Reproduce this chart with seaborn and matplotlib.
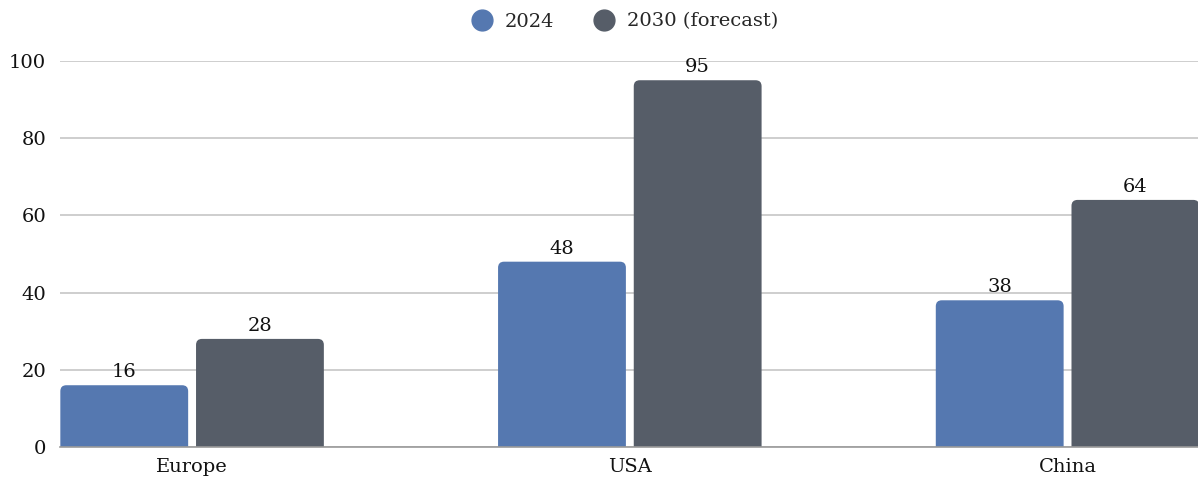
import matplotlib
matplotlib.use("Agg")
import matplotlib.pyplot as plt
from matplotlib.path import Path
from matplotlib.patches import PathPatch
from matplotlib.lines import Line2D
import seaborn as sns
import pandas as pd

regions = ["Europe", "USA", "China"]
series_names = ["2024", "2030 (forecast)"]
values_2024 = [16, 48, 38]
values_2030 = [28, 95, 64]
y_ticks = [0, 20, 40, 60, 80, 100]
colors = ["#5578B0", "#565D68"]

df = pd.DataFrame({
    "region": regions * 2,
    "series": [series_names[0]] * 3 + [series_names[1]] * 3,
    "value": values_2024 + values_2030,
})

sns.set_theme(style="white")
plt.rcParams["font.family"] = ["DejaVu Serif"]

fig = plt.figure(figsize=(11.98, 4.79), dpi=100)
ax = fig.add_axes([0.050, 0.0668, 0.950, 0.806])

sns.barplot(data=df, x="region", y="value", hue="series", order=regions,
            hue_order=series_names, palette=colors, width=0.62, gap=0.058,
            saturation=1, legend=False, ax=ax, zorder=3)

ax.set_ylim(0, 100)
ax.set_xlim(-0.302, 2.298)
fig.canvas.draw()

# rounded top corners (about 6 px radius)
inv = ax.transData.inverted()
p0 = inv.transform((0, 0))
p1 = inv.transform((6, 6))
rx, ry = p1[0] - p0[0], p1[1] - p0[1]

bars = list(ax.patches)
for b in bars:
    x0, w, h = b.get_x(), b.get_width(), b.get_height()
    x1 = x0 + w
    verts = [(x0, 0), (x0, h - ry), (x0, h), (x0 + rx, h), (x1 - rx, h),
             (x1, h), (x1, h - ry), (x1, 0), (x0, 0)]
    codes = [Path.MOVETO, Path.LINETO, Path.CURVE3, Path.CURVE3, Path.LINETO,
             Path.CURVE3, Path.CURVE3, Path.LINETO, Path.CLOSEPOLY]
    pp = PathPatch(Path(verts, codes), facecolor=b.get_facecolor(),
                   edgecolor="none", zorder=3)
    ax.add_patch(pp)
    ax.text(x0 + w / 2, h + 1.0, f"{h:g}", ha="center", va="bottom",
            fontsize=14, color="#111111", zorder=4)
    b.remove()

ax.set_yticks(y_ticks)
ax.yaxis.grid(True, color="#C6C6C6", linewidth=1.2, zorder=0)
ax.xaxis.grid(False)
for s in ["left", "right", "top"]:
    ax.spines[s].set_visible(False)
ax.spines["bottom"].set_color("#9A9A9A")
ax.spines["bottom"].set_linewidth(1.2)
ax.spines["bottom"].set_zorder(5)
ax.tick_params(axis="y", length=0, pad=10, labelsize=14, labelcolor="#111111")
ax.tick_params(axis="x", length=0, pad=8, labelsize=14, labelcolor="#111111")
ax.set_xlabel("")
ax.set_ylabel("")

handles = [Line2D([0], [0], marker="o", linestyle="none", markersize=15,
                  markerfacecolor=c, markeredgecolor=c) for c in colors]
fig.legend(handles, series_names, loc="center", bbox_to_anchor=(0.521, 0.955),
           ncol=2, frameon=False, fontsize=14, handletextpad=0.55,
           columnspacing=2.0, handlelength=1.2)

fig.savefig("out.png", dpi=100, facecolor="white")
